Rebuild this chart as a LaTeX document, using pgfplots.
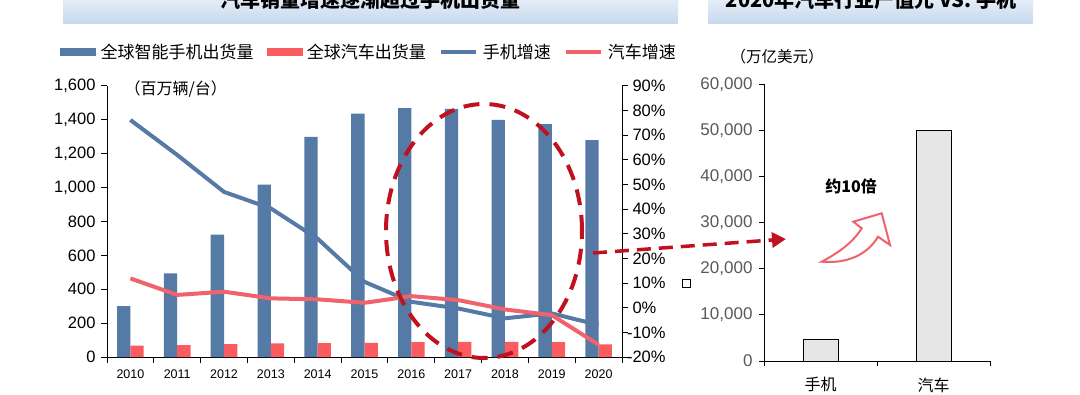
\documentclass[border=0pt]{standalone}
\usepackage{pgfplots}
\pgfplotsset{compat=1.18}
\usepackage{fontspec}
\setmainfont{Liberation Sans}
\newfontfamily\cjk{Noto Sans CJK SC}
\usetikzlibrary{arrows.meta}
\definecolor{cblue}{RGB}{85,122,165}
\definecolor{cred}{RGB}{250,92,95}
\definecolor{credl}{RGB}{240,98,108}
\definecolor{dred}{RGB}{192,18,30}
\definecolor{tboxtop}{RGB}{240,245,251}
\definecolor{tboxbot}{RGB}{198,216,238}
\definecolor{lgray}{RGB}{230,230,230}
\definecolor{tgray}{RGB}{89,89,89}
\begin{document}
\begin{tikzpicture}[x=1pt,y=1pt]
\useasboundingbox (0,0) rectangle (1080,394);
\begin{scope}
\clip (0,0) rectangle (1080,394);
\shade[top color=tboxtop, bottom color=tboxbot] (63,370) rectangle (678,404);
\node[anchor=base, font=\cjk\bfseries\fontsize{20}{22}\selectfont] at (370,386) {汽车销量增速逐渐超过手机出货量};
\shade[top color=tboxtop, bottom color=tboxbot] (708,370) rectangle (1033,404);
\node[anchor=base, font=\cjk\bfseries\fontsize{20}{22}\selectfont] at (871,386) {2020年汽车行业产值元 VS. 手机};
\end{scope}
% left chart: volumes
\begin{axis}[at={(107pt,37pt)}, anchor=south west, scale only axis,
  width=515pt, height=271pt,
  xmin=-0.5, xmax=10.5, ymin=0, ymax=1600,
  ytick={0,200,...,1600},
  axis y line*=left, axis x line*=bottom,
  axis line style={line width=1pt,-},
  tick align=outside, major tick length=6pt, minor tick length=6pt,
  tick style={line width=1pt, black},
  xtick={0,...,10},
  xticklabels={2010,2011,2012,2013,2014,2015,2016,2017,2018,2019,2020},
  major x tick style={draw=none},
  minor xtick={-0.5,0.5,...,10.5},
  /pgf/number format/assume math mode=true,
  scaled y ticks=false,
  yticklabel style={font=\fontsize{16.5}{18}\selectfont, xshift=-2pt},
  xticklabel style={font=\fontsize{12.5}{14}\selectfont, yshift=-3pt},
  ybar=0pt, bar width=13.3pt,
  clip=false]
\addplot[fill=cblue, draw=none] coordinates {(0,300)(1,494)(2,723)(3,1018)(4,1300)(5,1437)(6,1469)(7,1465)(8,1400)(9,1375)(10,1280)};
\addplot[fill=cred, draw=none] coordinates {(0,67)(1,70)(2,76)(3,80)(4,82)(5,84)(6,88)(7,90)(8,90)(9,88)(10,75)};
\end{axis}
% left chart: growth rates
\begin{axis}[at={(107pt,37pt)}, anchor=south west, scale only axis,
  width=515pt, height=271pt,
  xmin=-0.5, xmax=10.5, ymin=-20, ymax=90,
  ytick={-20,-10,...,90},
  axis y line*=right, axis x line=none,
  axis line style={line width=1pt,-},
  tick align=outside, major tick length=6pt,
  tick style={line width=1pt, black},
  /pgf/number format/assume math mode=true,
  yticklabel={\pgfmathtruncatemacro\t{\tick}\ifnum\t<0 \llap{-}\pgfmathtruncatemacro\a{-\t}\a\else\t\fi\%},
  yticklabel style={font=\fontsize{16.5}{18}\selectfont, anchor=west, xshift=1pt},
  legend columns=4,
  legend style={draw=none, fill=none, at={(-0.0913,1.1255)}, anchor=west,
    font=\cjk\fontsize{17}{19}\selectfont, inner sep=0pt,
    nodes={inner sep=0pt},
    /tikz/every odd column/.append style={column sep=5pt},
    /tikz/every even column/.append style={column sep=13pt}},
  clip=false]
\addlegendimage{legend image code/.code={\fill[cblue] (0pt,-3.5pt) rectangle (35pt,3.5pt);}}
\addlegendentry{全球智能手机出货量}
\addlegendimage{legend image code/.code={\fill[cred] (0pt,-3.5pt) rectangle (35pt,3.5pt);}}
\addlegendentry{全球汽车出货量}
\addplot[cblue, line width=4pt, line join=round, legend image code/.code={\draw[cblue, line width=4pt] (0pt,0pt) -- (35pt,0pt);}] coordinates {(0,76.2)(1,62)(2,47)(3,40.3)(4,28)(5,10.5)(6,2.4)(7,-0.3)(8,-4.3)(9,-2.3)(10,-7)};
\addlegendentry{手机增速}
\addplot[credl, line width=4pt, line join=round, legend image code/.code={\draw[credl, line width=4pt] (0pt,0pt) -- (35pt,0pt);}] coordinates {(0,11.9)(1,5.2)(2,6.5)(3,3.8)(4,3.4)(5,2)(6,4.7)(7,3.1)(8,-0.7)(9,-3)(10,-15)};
\addlegendentry{汽车增速}
\end{axis}
% right chart
\begin{axis}[at={(764pt,33pt)}, anchor=south west, scale only axis,
  width=226pt, height=276.7pt,
  xmin=-0.5, xmax=1.5, ymin=0, ymax=60000,
  ytick={0,10000,...,60000},
  axis y line*=left, axis x line*=bottom,
  axis line style={line width=1pt,-},
  tick align=outside, major tick length=5pt, minor tick length=5pt,
  tick style={line width=1pt, black},
  xtick={0,1}, xticklabels={手机,汽车},
  major x tick style={draw=none},
  minor xtick={-0.5,0.5,1.5},
  /pgf/number format/assume math mode=true,
  scaled y ticks=false,
  yticklabel style={font=\fontsize{17}{18}\selectfont, text=tgray, xshift=-3pt},
  xticklabel style={font=\cjk\fontsize{16}{18}\selectfont, yshift=-8pt},
  ybar, bar width=35pt,
  clip=false]
\addplot[fill=lgray, draw=black, line width=0.8pt] coordinates {(0,4700)(1,50000)};
\end{axis}
% annotations
\node[anchor=west, font=\cjk\fontsize{16}{18}\selectfont] at (121,305) {（百万辆/台）};
\node[anchor=west, font=\cjk\fontsize{15.5}{17}\selectfont] at (727,337) {（万亿美元）};
\node[font=\cjk\bfseries\fontsize{16}{18}\selectfont] at (851,208) {约10倍};
\draw[line width=0.6pt] (682,107) rectangle (690,115);
\draw[dred, line width=4pt, dash pattern=on 16pt off 10pt] (484,163) ellipse [x radius=98pt, y radius=127pt];
\draw[dred, line width=3.5pt, dash pattern=on 14pt off 8pt, -{Triangle[length=14pt,width=15pt]}] (593,141) -- (786,155);
\draw[credl, line width=2pt, fill=white, line join=miter]
  (821.7,132.3) .. controls (836,140) and (852,150) .. (861.7,165.7)
  -- (853.3,172.3) -- (881.7,180.7) -- (890,149) -- (878,157.3)
  .. controls (868,140) and (848,130) .. (821.7,132.3) -- cycle;
\end{tikzpicture}
\end{document}
